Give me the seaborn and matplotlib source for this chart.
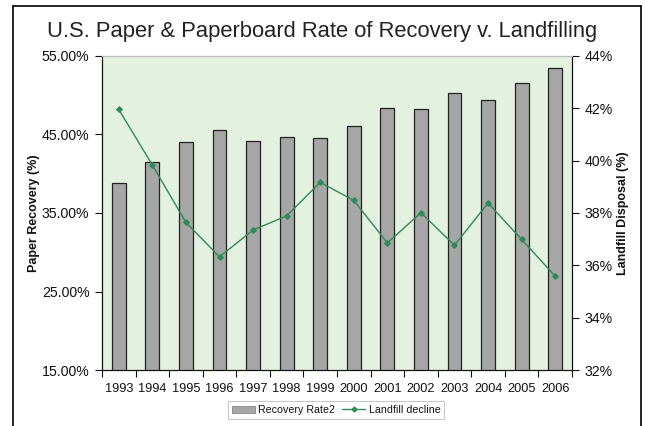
import numpy as np
import pandas as pd
import matplotlib
matplotlib.use("Agg")
import matplotlib.pyplot as plt
import seaborn as sns
from matplotlib.lines import Line2D
from matplotlib.patches import Patch
from matplotlib.ticker import FuncFormatter

# data
years = ["1993", "1994", "1995", "1996", "1997", "1998", "1999",
         "2000", "2001", "2002", "2003", "2004", "2005", "2006"]
recovery = [38.8, 41.5, 44.0, 45.6, 44.2, 44.6, 44.5,
            46.0, 48.3, 48.2, 50.3, 49.4, 51.5, 53.4]
landfill = [41.95, 39.83, 37.64, 36.33, 37.35, 37.89, 39.17,
            38.48, 36.86, 38.01, 36.77, 38.38, 36.99, 35.59]
left_ticks = [15, 25, 35, 45, 55]
right_ticks = [32, 34, 36, 38, 40, 42, 44]

df = pd.DataFrame({"year": years, "recovery": recovery, "landfill": landfill})

sns.set_style("white")
plt.rcParams["font.family"] = ["Liberation Sans", "DejaVu Sans"]
plt.rcParams["text.color"] = "#111111"
plt.rcParams["axes.labelcolor"] = "#111111"
plt.rcParams["xtick.color"] = "#111111"
plt.rcParams["ytick.color"] = "#111111"

green = "#2e8b57"
barcol = "#a6a6a6"

fig = plt.figure(figsize=(6.45, 4.26), dpi=100)
ax = fig.add_axes([102 / 645, 1 - 370.3 / 426, 470 / 645, 314.6 / 426])
ax.set_facecolor("#e4f0e0")

sns.barplot(data=df, x="year", y="recovery", ax=ax, color=barcol,
            edgecolor="#222222", linewidth=0.9, width=0.41, saturation=1)
ax.set_ylim(15, 55)
ax.set_xlim(-0.5, 13.5)
ax.set_yticks(left_ticks)
ax.yaxis.set_major_formatter(FuncFormatter(lambda v, p: f"{v:.2f}%"))
ax.set_xlabel("")
ax.set_ylabel("Paper Recovery (%)", fontsize=9, fontweight="bold", labelpad=1)
ax.tick_params(axis="y", labelsize=10.2, length=5, width=0.8, direction="out", left=True, pad=4)
ax.tick_params(axis="x", labelsize=9.2, length=0, pad=9)
# ticks between categories, Excel style
ax.set_xticks(np.arange(-0.5, 14, 1), minor=True)
ax.tick_params(axis="x", which="minor", length=5, width=0.8, direction="out", bottom=True)

ax2 = ax.twinx()
sns.pointplot(data=df, x="year", y="landfill", ax=ax2, color=green,
              markers="D", markersize=3, linewidth=1)
ax2.set_ylim(32, 44)
ax2.set_xlim(-0.5, 13.5)
ax2.set_yticks(right_ticks)
ax2.yaxis.set_major_formatter(FuncFormatter(lambda v, p: f"{v:.0f}%"))
ax2.set_ylabel("Landfill Disposal (%)", fontsize=9, fontweight="bold", labelpad=3)
ax2.set_xlabel("")
ax2.tick_params(axis="y", labelsize=10.2, length=5, width=0.8, direction="out", right=True, pad=4)

for a in (ax, ax2):
    for s in a.spines.values():
        s.set_color("#111111")
        s.set_linewidth(0.8)
    a.spines["top"].set_color("#bbbbbb")

fig.text(0.5, 1 - 37 / 426, "U.S. Paper & Paperboard Rate of Recovery v. Landfilling",
         ha="center", va="baseline", fontsize=15.8, color="#222222")

handles = [Patch(facecolor=barcol, edgecolor="#888888", linewidth=0.6),
           Line2D([], [], color=green, marker="D", markersize=2.5, linewidth=1)]
leg = fig.legend(handles, ["Recovery Rate2", "Landfill decline"], ncol=2,
                 loc="center", bbox_to_anchor=(336 / 645, 1 - 410 / 426),
                 fontsize=7.7, frameon=True, fancybox=False, handlelength=2.2,
                 handletextpad=0.3, columnspacing=0.6, borderpad=0.35)
leg.get_frame().set_edgecolor("#bbbbbb")
leg.get_frame().set_linewidth(0.8)

# outer chart border (open at the bottom in the reference crop)
x0, x1, y1 = 12.5 / 645, 641 / 645, 1 - 6 / 426
for xs, ys in [([x0, x0], [0, y1]), ([x0, x1], [y1, y1]), ([x1, x1], [y1, 0])]:
    fig.add_artist(Line2D(xs, ys, color="black", linewidth=1.2, transform=fig.transFigure))

fig.savefig("out.png", dpi=100)
